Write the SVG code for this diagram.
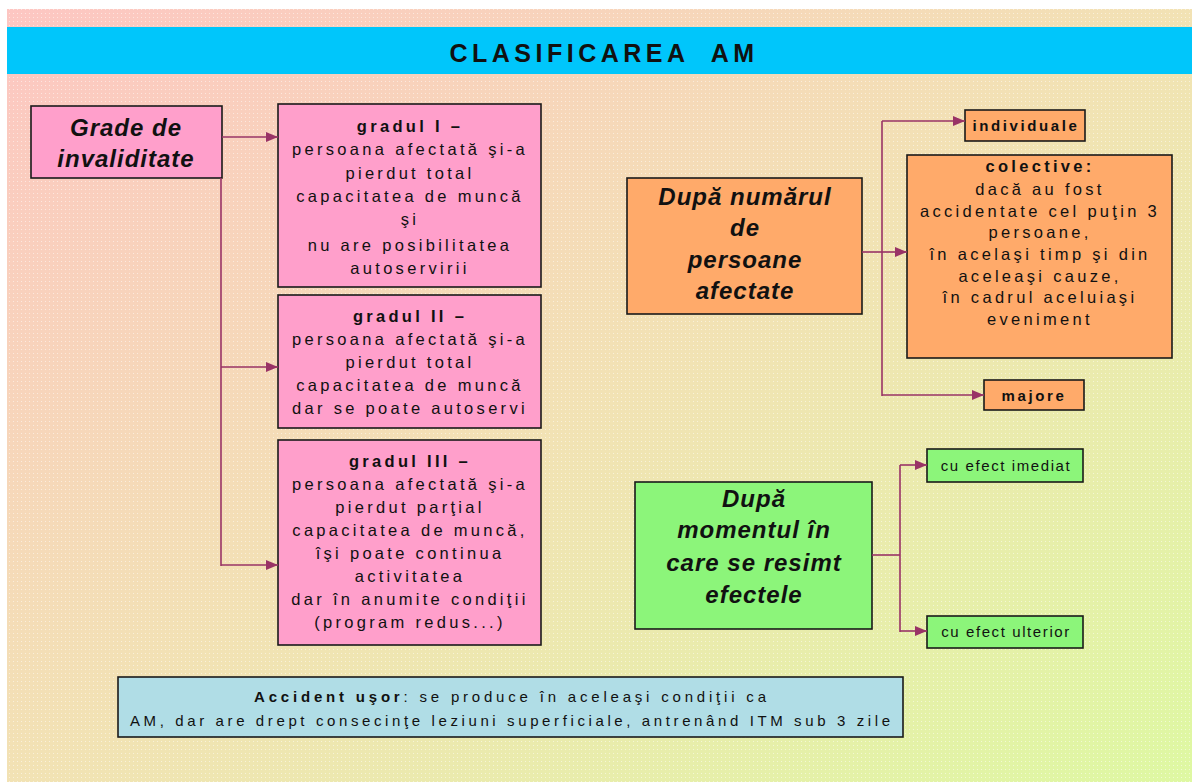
<svg xmlns="http://www.w3.org/2000/svg" width="1192" height="782" viewBox="0 0 1192 782">
<defs>
<linearGradient id="bg" x1="0" y1="0" x2="1" y2="1">
<stop offset="0" stop-color="#fdc6c2"/>
<stop offset="0.5" stop-color="#f2e2b4"/>
<stop offset="1" stop-color="#def8a2"/>
</linearGradient>
<pattern id="dots" width="4" height="4" patternUnits="userSpaceOnUse">
<rect x="1" y="1" width="1" height="1" fill="#ffffff" opacity="0.5"/>
</pattern>
<marker id="arr" viewBox="0 0 12 10" refX="12" refY="5" markerWidth="12" markerHeight="10" markerUnits="userSpaceOnUse" orient="auto">
<path d="M0,0 L12,5 L0,10 z" fill="#993366"/>
</marker>
<style>
.box{stroke:#1a1a1a;stroke-width:1.6}
.pink{fill:#ff9fcb}
.orange{fill:#ffaa6a}
.green{fill:#8cf57a}
.blue{fill:#b0dde6}
.t{font-family:"Liberation Sans",Arial,sans-serif;fill:#111;text-anchor:middle}
.head{font-size:24px;font-weight:bold;font-style:italic;letter-spacing:1px}
.body{font-size:16.5px;letter-spacing:3.3px}
.b{font-weight:bold}
.small{font-size:15px;letter-spacing:2.6px}
.tiny{font-size:15px;letter-spacing:1.6px}
.conn{fill:none;stroke:#993366;stroke-width:1.6}
</style>
</defs>
<rect x="0" y="0" width="1192" height="782" fill="#ffffff"/>
<rect x="7" y="9" width="1185" height="773" fill="url(#bg)"/>
<rect x="7" y="9" width="1185" height="773" fill="url(#dots)"/>

<g id="title">
<rect x="7" y="27" width="1185" height="47" fill="#00c6fb"/>
<text class="t b" x="604" y="62" font-size="25" letter-spacing="4.5" xml:space="preserve">CLASIFICAREA  AM</text>
</g>

<g id="grade">
<rect class="box pink" x="31" y="106" width="191" height="72"/>
<text class="t head" x="126" y="136">Grade de</text>
<text class="t head" x="126" y="167">invaliditate</text>
</g>

<g id="gradul1">
<rect class="box pink" x="278" y="104" width="263" height="183"/>
<text class="t body" x="410" y="132"><tspan class="b">gradul I –</tspan></text>
<text class="t body" x="410" y="155">persoana afectată şi-a</text>
<text class="t body" x="410" y="179">pierdut total</text>
<text class="t body" x="410" y="202">capacitatea de muncă</text>
<text class="t body" x="410" y="225">şi</text>
<text class="t body" x="410" y="251">nu are posibilitatea</text>
<text class="t body" x="410" y="274">autoservirii</text>
</g>

<g id="gradul2">
<rect class="box pink" x="278" y="295" width="263" height="133"/>
<text class="t body" x="410" y="322"><tspan class="b">gradul II –</tspan></text>
<text class="t body" x="410" y="345">persoana afectată şi-a</text>
<text class="t body" x="410" y="368">pierdut total</text>
<text class="t body" x="410" y="391">capacitatea de muncă</text>
<text class="t body" x="410" y="414">dar se poate autoservi</text>
</g>

<g id="gradul3">
<rect class="box pink" x="278" y="440" width="263" height="205"/>
<text class="t body" x="410" y="467"><tspan class="b">gradul III –</tspan></text>
<text class="t body" x="410" y="490">persoana afectată şi-a</text>
<text class="t body" x="410" y="513">pierdut parţial</text>
<text class="t body" x="410" y="536">capacitatea de muncă,</text>
<text class="t body" x="410" y="559">îşi poate continua</text>
<text class="t body" x="410" y="582">activitatea</text>
<text class="t body" x="410" y="605">dar în anumite condiţii</text>
<text class="t body" x="410" y="628">(program redus...)</text>
</g>

<g id="numar">
<rect class="box orange" x="627" y="178" width="235" height="136"/>
<text class="t head" x="745" y="205">După numărul</text>
<text class="t head" x="745" y="236">de</text>
<text class="t head" x="745" y="268">persoane</text>
<text class="t head" x="745" y="299">afectate</text>
</g>

<g id="individuale">
<rect class="box orange" x="965" y="110" width="120" height="31"/>
<text class="t small b" x="1026" y="131">individuale</text>
</g>

<g id="colective">
<rect class="box orange" x="907" y="155" width="265" height="203"/>
<text class="t body b" x="1040" y="172">colective:</text>
<text class="t body" x="1040" y="195">dacă au fost</text>
<text class="t body" x="1040" y="217">accidentate cel puţin 3</text>
<text class="t body" x="1040" y="238">persoane,</text>
<text class="t body" x="1040" y="260">în acelaşi timp şi din</text>
<text class="t body" x="1040" y="282">aceleaşi cauze,</text>
<text class="t body" x="1040" y="303">în cadrul aceluiaşi</text>
<text class="t body" x="1040" y="325">eveniment</text>
</g>

<g id="majore">
<rect class="box orange" x="984" y="380" width="100" height="30"/>
<text class="t small b" x="1034" y="401">majore</text>
</g>

<g id="moment">
<rect class="box green" x="635" y="482" width="237" height="147"/>
<text class="t head" x="754" y="507">După</text>
<text class="t head" x="754" y="538">momentul în</text>
<text class="t head" x="754" y="571">care se resimt</text>
<text class="t head" x="754" y="603">efectele</text>
</g>

<g id="imediat">
<rect class="box green" x="927" y="449" width="156" height="33"/>
<text class="t tiny" x="1006" y="471">cu efect imediat</text>
</g>

<g id="ulterior">
<rect class="box green" x="927" y="616" width="156" height="32"/>
<text class="t tiny" x="1006" y="637">cu efect ulterior</text>
</g>

<g id="usor">
<rect class="box blue" x="118" y="677" width="785" height="60"/>
<text class="t" x="510" y="702" font-size="15" textLength="512" lengthAdjust="spacing"><tspan font-weight="bold">Accident uşor</tspan>: se produce în aceleaşi condiţii ca</text>
<text class="t" x="510" y="726" font-size="15" textLength="760" lengthAdjust="spacing">AM, dar are drept consecinţe leziuni superficiale, antrenând ITM sub 3 zile</text>
</g>

<g id="connectors">
<path class="conn" d="M222,137 H278" marker-end="url(#arr)"/>
<path class="conn" d="M221,178 V566"/>
<path class="conn" d="M221,367 H278" marker-end="url(#arr)"/>
<path class="conn" d="M221,565 H278" marker-end="url(#arr)"/>
<path class="conn" d="M862,252 H882"/>
<path class="conn" d="M882,121 V396"/>
<path class="conn" d="M882,121 H965" marker-end="url(#arr)"/>
<path class="conn" d="M882,252 H907" marker-end="url(#arr)"/>
<path class="conn" d="M882,395 H984" marker-end="url(#arr)"/>
<path class="conn" d="M872,555 H900"/>
<path class="conn" d="M900,465 V632"/>
<path class="conn" d="M900,465 H927" marker-end="url(#arr)"/>
<path class="conn" d="M900,631 H927" marker-end="url(#arr)"/>
</g>
</svg>
